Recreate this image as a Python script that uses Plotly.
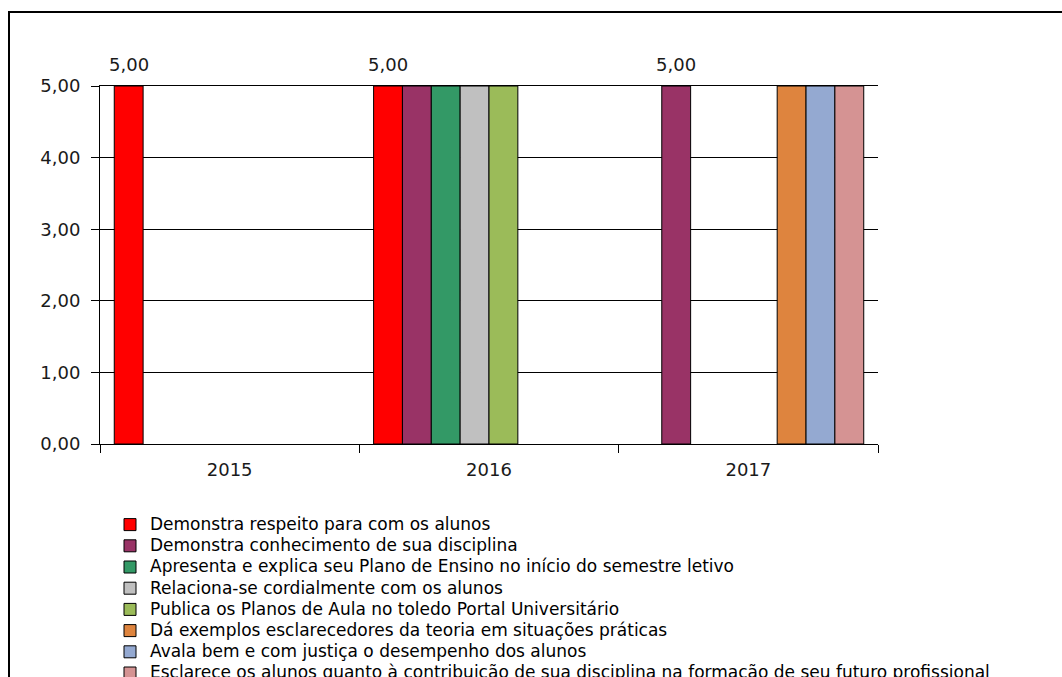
import plotly.graph_objects as go

categories = ["2015", "2016", "2017"]

series_names = [
    "Demonstra respeito para com os alunos",
    "Demonstra conhecimento de sua disciplina",
    "Apresenta e explica seu Plano de Ensino no início do semestre letivo",
    "Relaciona-se cordialmente com os alunos",
    "Publica os Planos de Aula no toledo Portal Universitário",
    "Dá exemplos esclarecedores da teoria em situações práticas",
    "Avala bem e com justiça o desempenho dos alunos",
    "Esclarece os alunos quanto à contribuição de sua disciplina na formação de seu futuro profissional",
]

respeito = [5.0, 5.0, None]
conhecimento = [None, 5.0, 5.0]
plano_ensino = [None, 5.0, None]
cordialidade = [None, 5.0, None]
planos_aula = [None, 5.0, None]
exemplos = [None, None, 5.0]
avaliacao = [None, None, 5.0]
contribuicao = [None, None, 5.0]

series_values = [respeito, conhecimento, plano_ensino, cordialidade,
                 planos_aula, exemplos, avaliacao, contribuicao]

y_ticks = [0, 1, 2, 3, 4, 5]

colors = ["#FF0000", "#993366", "#339966", "#C0C0C0",
          "#9BBB59", "#DE843E", "#94A9D1", "#D59393"]

FONT = "DejaVu Sans, Liberation Sans, Arial, sans-serif"
W, H = 1062, 677
ML, MR, MT, MB = 100, 184, 86, 233
BARGAP = 0.11

fig = go.Figure()
for name, vals, col in zip(series_names, series_values, colors):
    fig.add_trace(go.Bar(
        x=categories, y=vals,
        name=f'<span style="font-size:17px">{name}</span>',
        marker=dict(color=col, line=dict(color="#000000", width=1)),
    ))

# value labels: first bar with a value in each category
plot_w = W - ML - MR
cat_px = plot_w / len(categories)
n = len(series_values)
bar_px = cat_px * (1 - BARGAP) / n
annotations = []
for ci, cat in enumerate(categories):
    for k, vals in enumerate(series_values):
        v = vals[ci]
        if v is not None:
            annotations.append(dict(
                x=ci, y=v, xref="x", yref="y",
                text=f"{v:.2f}".replace(".", ","),
                showarrow=False, yanchor="bottom",
                xshift=(k - (n - 1) / 2) * bar_px, yshift=9,
                font=dict(family=FONT, size=18, color="#1a1a1a"),
            ))
            break

def px_x(p):
    return (p - ML) / plot_w

def px_y(p):
    return (H - MB - p) / (H - MT - MB)

shapes = [dict(type="rect", xref="paper", yref="paper",
               x0=px_x(9), x1=px_x(1120), y0=px_y(12), y1=px_y(720),
               line=dict(color="#000000", width=2), fillcolor="rgba(0,0,0,0)",
               layer="above")]

fig.update_layout(
    width=W, height=H,
    margin=dict(l=ML, r=MR, t=MT, b=MB, pad=0, autoexpand=False),
    paper_bgcolor="#FFFFFF", plot_bgcolor="#FFFFFF",
    barmode="group", bargap=BARGAP, bargroupgap=0,
    separators=",.",
    font=dict(family=FONT, size=18, color="#1a1a1a"),
    showlegend=True,
    legend=dict(x=px_x(110), y=px_y(509), xanchor="left", yanchor="top",
                font=dict(family=FONT, size=14, color="#000000"),
                bgcolor="rgba(0,0,0,0)", traceorder="normal",
                itemclick=False, itemdoubleclick=False),
    annotations=annotations,
    shapes=shapes,
)
fig.update_xaxes(
    type="category", categoryorder="array", categoryarray=categories,
    range=[-0.5, len(categories) - 0.5],
    showline=True, mirror=True, linecolor="#000000", linewidth=1,
    ticks="outside", tickson="boundaries", ticklen=8, tickcolor="#000000",
    showgrid=False, ticklabelstandoff=9,
    tickfont=dict(family=FONT, size=18, color="#1a1a1a"),
)
fig.update_yaxes(
    range=[0, 5], tickvals=y_ticks, tickformat=".2f",
    showline=True, linecolor="#000000", linewidth=1,
    ticks="outside", ticklen=8, tickcolor="#000000",
    showgrid=True, gridcolor="#000000", gridwidth=1,
    zeroline=False, ticklabelstandoff=7,
    tickfont=dict(family=FONT, size=18, color="#1a1a1a"),
)

fig.write_html("out.html",
               config={"displayModeBar": False},
               post_script="document.body.style.margin='0';")
